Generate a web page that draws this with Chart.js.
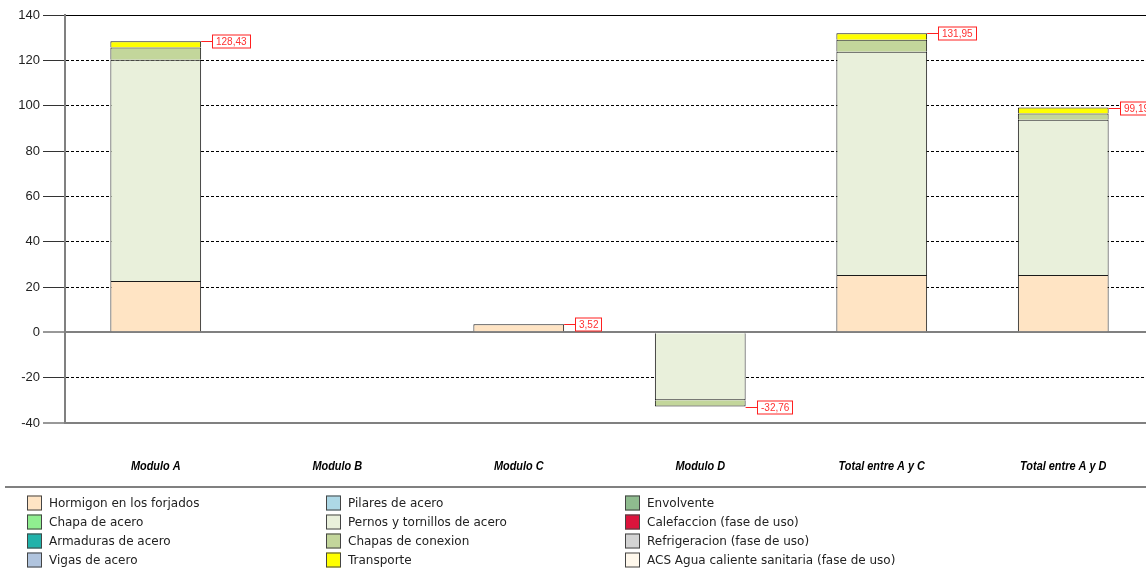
<!DOCTYPE html>
<html>
<head>
<meta charset="utf-8">
<title>Modulos</title>
<script src="https://cdn.jsdelivr.net/npm/chart.js@4/dist/chart.umd.min.js"></script>
<style>
  html, body { margin: 0; padding: 0; background: #ffffff; overflow: hidden; }
  #wrap { width: 1146px; height: 569px; overflow: hidden; position: relative; }
  canvas { display: block; }
</style>
</head>
<body>
<div id="wrap"><canvas id="chart" width="1160" height="569"></canvas></div>
<script>
// Categories along the x axis
const categories = ['Modulo A', 'Modulo B', 'Modulo C', 'Modulo D', 'Total entre A y C', 'Total entre A y D'];

// Y axis range and step
const yMin = -40;
const yMax = 140;
const yStep = 20;

// Series names (legend order)
const seriesNames = [
  'Hormigon en los forjados', 'Chapa de acero', 'Armaduras de acero', 'Vigas de acero',
  'Pilares de acero', 'Pernos y tornillos de acero', 'Chapas de conexion', 'Transporte',
  'Envolvente', 'Calefaccion (fase de uso)', 'Refrigeracion (fase de uso)', 'ACS Agua caliente sanitaria (fase de uso)'
];

// Series values per category (null = no contribution)
const hormigon      = [22.6, null, 3.52, null, 25.3, 25.3];
const chapaAcero    = [null, null, null, null, null, null];
const armaduras     = [null, null, null, null, null, null];
const vigas         = [null, null, null, null, null, null];
const pilares       = [null, null, null, null, null, null];
const pernos        = [97.7, null, null, -30.0, 98.5, 68.5];
const chapasConexion= [5.4, null, null, -2.76, 5.3, 2.7];
const transporte    = [2.73, null, null, null, 2.85, 2.69];
const envolvente    = [null, null, null, null, null, null];
const calefaccion   = [null, null, null, null, null, null];
const refrigeracion = [null, null, null, null, null, null];
const acs           = [null, null, null, null, null, null];

const seriesValues = [hormigon, chapaAcero, armaduras, vigas, pilares, pernos,
  chapasConexion, transporte, envolvente, calefaccion, refrigeracion, acs];

const seriesColors = ['#FFE4C4', '#90EE90', '#20B2AA', '#B0C4DE', '#ADD8E6', '#E9F0DB',
  '#C3D69B', '#FFFF00', '#8FBC8F', '#DC143C', '#D3D3D3', '#FFF8EC'];

const datasets = seriesNames.map((name, i) => ({
  label: name,
  data: seriesValues[i],
  backgroundColor: seriesColors[i],
  borderColor: '#1a1a1a',
  borderWidth: 1,
  barPercentage: 0.5,
  categoryPercentage: 1.0
}));

// Condensed bold-italic category names under the plot
const categoryLabels = {
  id: 'categoryLabels',
  afterDraw(chart) {
    const ctx = chart.ctx;
    const xs = chart.scales.x;
    ctx.save();
    ctx.font = 'italic bold 13px "Liberation Sans", Arial, sans-serif';
    ctx.fillStyle = '#000000';
    ctx.textAlign = 'center';
    ctx.textBaseline = 'middle';
    chart.data.labels.forEach((lab, i) => {
      ctx.save();
      ctx.translate(xs.getPixelForValue(i), 466);
      ctx.scale(0.84, 1);
      ctx.fillText(lab, 0, 0);
      ctx.restore();
    });
    ctx.restore();
  }
};

// Total labels at the end of each stacked bar
const totalLabels = {
  id: 'totalLabels',
  afterDatasetsDraw(chart) {
    const ctx = chart.ctx;
    const xs = chart.scales.x, ys = chart.scales.y;
    const n = chart.data.labels.length;
    const halfBar = (xs.width / n) * 0.5 / 2;
    ctx.save();
    ctx.font = '10px "Liberation Sans", Arial, sans-serif';
    ctx.textBaseline = 'middle';
    ctx.textAlign = 'left';
    for (let i = 0; i < n; i++) {
      let total = 0, any = false;
      chart.data.datasets.forEach(ds => {
        const v = ds.data[i];
        if (v !== null && v !== undefined) { total += v; any = true; }
      });
      if (!any) continue;
      const xr = xs.getPixelForValue(i) + halfBar;
      const y = Math.round(ys.getPixelForValue(total)) + 0.5;
      const text = total.toFixed(2).replace('.', ',');
      const tw = ctx.measureText(text).width;
      const bx = Math.round(xr + 11) + 0.5;
      const bw = Math.round(tw + 7);
      const bh = 13;
      ctx.strokeStyle = '#FF2020';
      ctx.lineWidth = 1;
      ctx.beginPath();
      ctx.moveTo(xr, y);
      ctx.lineTo(bx, y);
      ctx.stroke();
      ctx.fillStyle = '#FFFFFF';
      ctx.fillRect(bx, y - bh / 2, bw, bh);
      ctx.strokeRect(bx, y - bh / 2, bw, bh);
      ctx.fillStyle = '#FF3030';
      ctx.fillText(text, bx + 3.5, y + 0.5);
    }
    ctx.restore();
  }
};

// Legend drawn in three columns of four rows below the plot
const gridLegend = {
  id: 'gridLegend',
  afterDraw(chart) {
    const ctx = chart.ctx;
    const colX = [27, 326, 625];
    const rowY = [502.5, 521.5, 540.5, 559.5];
    ctx.save();
    ctx.strokeStyle = '#808080';
    ctx.lineWidth = 2;
    ctx.beginPath();
    ctx.moveTo(5, 487);
    ctx.lineTo(chart.width, 487);
    ctx.stroke();
    ctx.font = '12px "DejaVu Sans", sans-serif';
    ctx.textBaseline = 'middle';
    ctx.textAlign = 'left';
    chart.data.datasets.forEach((ds, i) => {
      const c = Math.floor(i / 4), r = i % 4;
      const x = colX[c], y = rowY[r];
      ctx.fillStyle = ds.backgroundColor;
      ctx.fillRect(x, y - 7, 15, 15);
      ctx.strokeStyle = '#444444';
      ctx.lineWidth = 1;
      ctx.strokeRect(x + 0.5, y - 6.5, 14, 14);
      ctx.fillStyle = '#222222';
      ctx.fillText(ds.label, x + 22, y + 1);
    });
    ctx.restore();
  }
};

new Chart(document.getElementById('chart'), {
  type: 'bar',
  data: { labels: categories, datasets: datasets },
  plugins: [totalLabels, gridLegend, categoryLabels],
  options: {
    responsive: false,
    devicePixelRatio: 1,
    animation: false,
    layout: { padding: { top: 15, right: 6, bottom: 0, left: 0 } },
    plugins: { legend: { display: false }, tooltip: { enabled: false } },
    scales: {
      x: {
        stacked: true,
        grid: { display: false, drawTicks: false },
        border: { display: false },
        ticks: { display: false },
        afterFit(scale) { scale.height = 146; }
      },
      y: {
        stacked: true,
        min: yMin,
        max: yMax,
        ticks: {
          stepSize: yStep,
          padding: 3,
          color: '#222222',
          font: { family: '"Liberation Sans", Arial, sans-serif', size: 13 }
        },
        grid: {
          color: ctx => (ctx.tick && (ctx.tick.value === 0 || ctx.tick.value === yMin)) ? '#808080' : '#000000',
          lineWidth: ctx => (ctx.tick && (ctx.tick.value === 0 || ctx.tick.value === yMin)) ? 2 : 1,
          tickLength: 22,
          tickColor: '#333333',
          tickWidth: 1
        },
        border: {
          color: '#808080',
          width: 2,
          dash: ctx => (ctx.tick && (ctx.tick.value === 0 || ctx.tick.value === yMin || ctx.tick.value === yMax)) ? [] : [3, 2]
        },
        afterFit(scale) { scale.width = 65; }
      }
    }
  }
});
</script>
</body>
</html>
